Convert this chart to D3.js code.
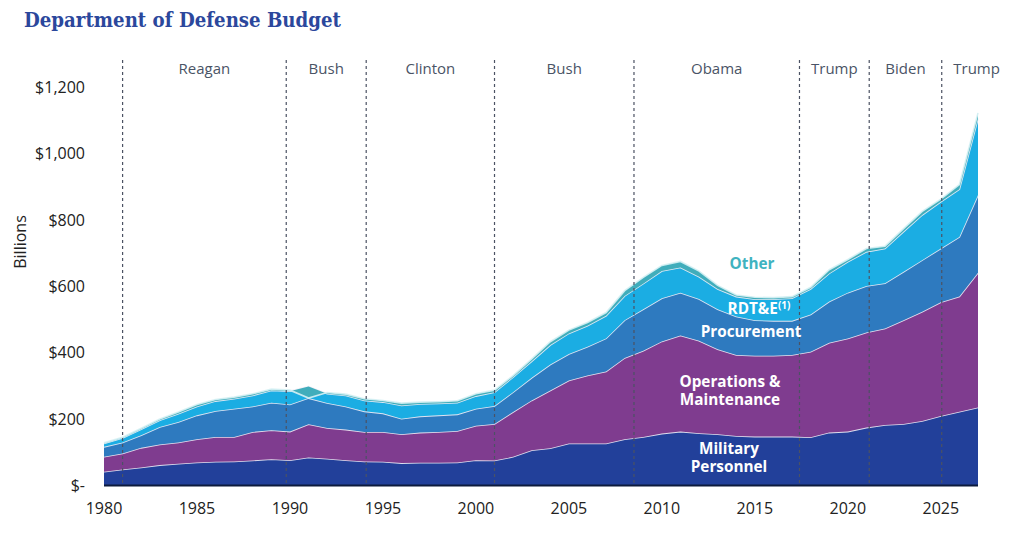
<!DOCTYPE html>
<head>
  <meta charset="utf-8">
  <title>Department of Defense Budget</title>
  <script src="https://d3js.org/d3.v7.min.js"></script>
  <style type="text/css">
    body {margin: 0; background: #fff;}
    .tick {font-family: 'Open Sans'; font-size: 16px; fill: #222;}
    .era {font-family: 'Open Sans'; font-size: 15px; fill: #4a5466;}
    .inLabel {font-family: 'Open Sans'; font-weight: 700; font-size: 15.3px; text-anchor: middle;}
  </style>
</head>

<body>
  <div id="viz"></div>
</body>

<script type="text/javascript">

  const years = d3.range(1980, 2028);

  // $ billions
  const milPers = [40, 47, 53, 60, 64, 68, 70, 71, 74, 78, 75, 83, 79, 75, 71, 70, 66, 67, 67, 68,
    75, 74, 85, 105, 111, 125, 125, 125, 138, 145, 155, 161, 156, 153, 148, 146, 146, 146, 144, 158,
    161, 173, 181, 184, 193, 208, 221, 234];
  const opsMaint = [45, 48, 59, 62, 64, 70, 75, 74, 86, 87, 86, 100, 93, 92, 89, 90, 87, 91, 93, 95,
    104, 110, 135, 150, 174, 190, 205, 217, 245, 260, 278, 290, 279, 256, 244, 244, 244, 246, 258, 271,
    281, 287, 291, 313, 329, 343, 347, 406];
  const procurement = [30, 33, 38, 53, 62, 72, 78, 85, 77, 83, 82, 79, 75, 70, 62, 56, 47, 49, 50, 50,
    51, 54, 60, 68, 78, 80, 87, 100, 114, 125, 130, 129, 126, 121, 116, 107, 105, 103, 112, 124,
    138, 140, 136, 146, 156, 162, 180, 234];
  const rdte = [10, 14, 18, 20, 25, 27, 30, 30, 33, 37, 40, 35, 28, 33, 33, 34, 40, 37, 36, 35,
    38, 42, 45, 50, 59, 62, 63, 68, 73, 77, 82, 76, 67, 61, 60, 63, 65, 68, 77, 85,
    93, 103, 105, 121, 136, 141, 144, 231];
  const other = [2, 2, 3, 4, 5, 6, 5, 5, 5, 4, 3, -35, 4, 4, 5, 5, 7, 6, 5, 6,
    7, 6, 5, 7, 10, 10, 10, 10, 16, 19, 17, 18, 17, 11, 5, 6, 5, 5, 5, 11,
    7, 10, 7, 9, 11, 8, 14, 17];

  const seriesKeys = ["milPers", "opsMaint", "procurement", "rdte", "other"];

  const eraNames = ["Reagan", "Bush", "Clinton", "Bush", "Obama", "Trump", "Biden", "Trump"];
  const eraStarts = [1981, 1989.8, 1994.1, 2001, 2008.5, 2017.4, 2021.15, 2025.05];
  const lastEraEnd = 2028.8;

  const yTicks = [0, 200, 400, 600, 800, 1000, 1200];
  const xTicks = [1980, 1985, 1990, 1995, 2000, 2005, 2010, 2015, 2020, 2025];

  const colorSet = {
    milPers: "#22409a",
    opsMaint: "#7f3c8f",
    procurement: "#2e7abf",
    rdte: "#1bade3",
    other: "#40adbb",
    title: "#2b479c"
  };

  const FULLW = 1024;
  const FULLH = 544;

  const x = d3.scaleLinear().domain([1980, 2027]).range([104, 978]);
  const y = d3.scaleLinear().domain([0, 1200]).range([485, 87]);

  const table = years.map(function (yr, i) {
    return {
      year: yr, milPers: milPers[i], opsMaint: opsMaint[i], procurement: procurement[i],
      rdte: rdte[i], other: other[i]
    };
  });

  const stacked = d3.stack().keys(seriesKeys)(table);

  const svg = d3.select("#viz")
    .append("svg")
    .attr("width", FULLW)
    .attr("height", FULLH);

  svg.append("rect")
    .attr("width", "100%")
    .attr("height", "100%")
    .attr("fill", "#fff");

  // title
  svg.append("text")
    .text("Department of Defense Budget")
    .attr("x", 24)
    .attr("y", 27)
    .attr("fill", colorSet.title)
    .style("font-family", "'DejaVu Serif'")
    .style("font-weight", 700)
    .style("font-size", "19.5px")
    .attr("textLength", 317)
    .attr("lengthAdjust", "spacingAndGlyphs");

  // stacked areas, each with a pale line on top
  const area = d3.area()
    .x(function (d) { return x(d.data.year); })
    .y0(function (d) { return y(d[0]); })
    .y1(function (d) { return y(d[1]); });

  const topLine = d3.line()
    .x(function (d) { return x(d.data.year); })
    .y(function (d) { return y(d[1]); });

  stacked.forEach(function (s) {
    svg.append("path")
      .datum(s)
      .attr("d", area)
      .attr("fill", colorSet[s.key]);
    svg.append("path")
      .datum(s)
      .attr("d", topLine)
      .attr("fill", "none")
      .attr("stroke", s.key === "other" ? "#d6f1f4" : "#f2eef6")
      .attr("stroke-width", 1.6)
      .attr("stroke-opacity", 0.9);
  });

  // baseline
  svg.append("line")
    .attr("x1", x(1980)).attr("x2", x(2027))
    .attr("y1", y(0) + 0.5).attr("y2", y(0) + 0.5)
    .attr("stroke", "#0d1b3d")
    .attr("stroke-width", 2);

  // presidential eras
  svg.selectAll(".eraLine")
    .data(eraStarts)
    .enter()
    .append("line")
    .attr("x1", function (d) { return x(d); })
    .attr("x2", function (d) { return x(d); })
    .attr("y1", 60)
    .attr("y2", y(0) - 1)
    .attr("stroke", "#4b5263")
    .attr("stroke-width", 1.2)
    .attr("stroke-dasharray", "3,3");

  svg.selectAll(".era")
    .data(eraNames)
    .enter()
    .append("text")
    .classed("era", true)
    .text(function (d) { return d; })
    .attr("text-anchor", "middle")
    .attr("x", function (d, i) {
      const end = i < eraStarts.length - 1 ? eraStarts[i + 1] : lastEraEnd;
      return (x(eraStarts[i]) + x(end)) / 2;
    })
    .attr("y", 74);

  // y axis labels
  svg.selectAll(".yTick")
    .data(yTicks)
    .enter()
    .append("text")
    .classed("tick", true)
    .text(function (d) { return d === 0 ? "$-" : "$" + d3.format(",")(d); })
    .attr("text-anchor", "end")
    .attr("x", 85)
    .attr("y", function (d) { return y(d) + 6; });

  svg.append("text")
    .classed("tick", true)
    .text("Billions")
    .attr("text-anchor", "middle")
    .attr("transform", "translate(26,242) rotate(-90)");

  // x axis labels
  svg.selectAll(".xTick")
    .data(xTicks)
    .enter()
    .append("text")
    .classed("tick", true)
    .text(function (d) { return d; })
    .attr("text-anchor", "middle")
    .attr("x", function (d) { return x(d); })
    .attr("y", 514);

  // series labels
  svg.append("text").classed("inLabel", true)
    .attr("fill", "#3fb3c0").attr("x", 752).attr("y", 269).text("Other");

  const rd = svg.append("text").classed("inLabel", true)
    .attr("fill", "#fff").attr("x", 759).attr("y", 314);
  rd.append("tspan").text("RDT&E");
  rd.append("tspan").text("(1)").attr("dy", -5).style("font-size", "10px");

  svg.append("text").classed("inLabel", true)
    .attr("fill", "#fff").attr("x", 751).attr("y", 337).text("Procurement");

  svg.append("text").classed("inLabel", true)
    .attr("fill", "#fff").attr("x", 730).attr("y", 387).text("Operations &");
  svg.append("text").classed("inLabel", true)
    .attr("fill", "#fff").attr("x", 730).attr("y", 405).text("Maintenance");

  svg.append("text").classed("inLabel", true)
    .attr("fill", "#fff").attr("x", 729).attr("y", 454).text("Military");
  svg.append("text").classed("inLabel", true)
    .attr("fill", "#fff").attr("x", 729).attr("y", 472).text("Personnel");

</script>
</html>
